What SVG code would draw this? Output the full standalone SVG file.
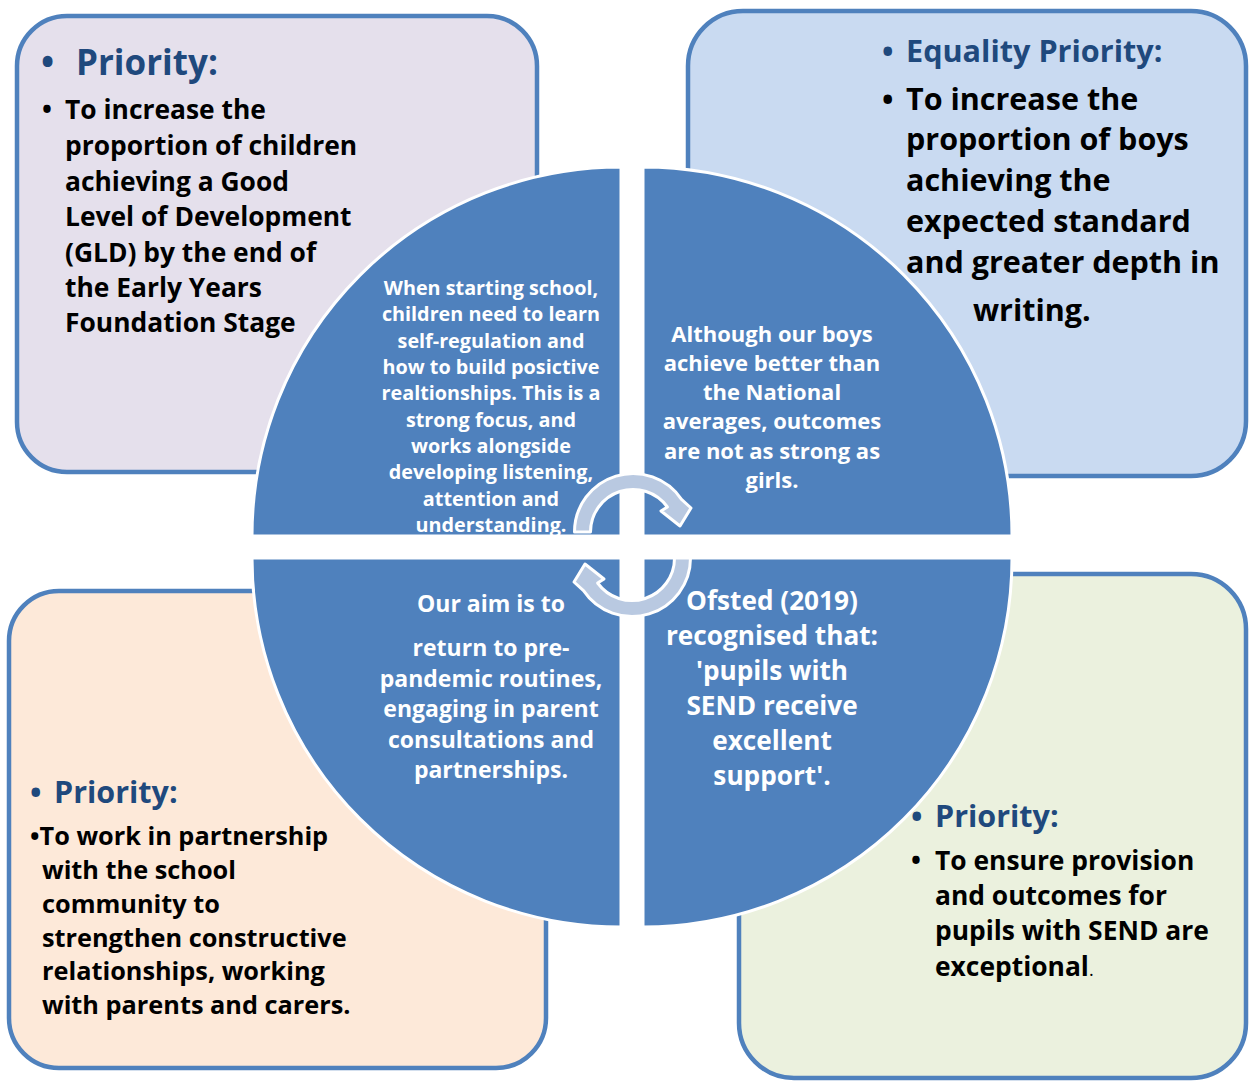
<svg xmlns="http://www.w3.org/2000/svg" width="1250" height="1081" viewBox="0 0 1250 1081">
<style>
.box{stroke:#4F81BD;stroke-width:4.5}
.quad{fill:#4F81BD;stroke:#FFFFFF;stroke-width:3}
.arrow{fill:#B9C9E1;stroke:#FFFFFF;stroke-width:3;stroke-linejoin:round}
text{font-family:"Open Sans","Liberation Sans",sans-serif;font-weight:bold}
.title{fill:#1F497D}
.body{fill:#000000}
.qt{fill:#FFFFFF;text-anchor:middle}
</style>
<rect width="1250" height="1081" fill="#FFFFFF"/>
<g id="box-tl"><rect class="box" x="17" y="16" width="520" height="456" rx="50" fill="#E5E0EC"/></g>
<g id="box-tr"><rect class="box" x="688" y="11" width="558" height="465" rx="55" fill="#C9DAF1"/></g>
<g id="box-bl"><rect class="box" x="9" y="591" width="537" height="477" rx="50" fill="#FDE9D9"/></g>
<g id="box-br"><rect class="box" x="739" y="574" width="507" height="504" rx="55" fill="#EBF1DE"/></g>
<g id="quad-tl"><path class="quad" d="M621,536 L252,536 A369,369 0 0 1 621,167 Z"/></g>
<g id="quad-tr"><path class="quad" d="M643,536 L643,167 A369,369 0 0 1 1012,536 Z"/></g>
<g id="quad-br"><path class="quad" d="M643,558 L1012,558 A369,369 0 0 1 643,927 Z"/></g>
<g id="quad-bl"><path class="quad" d="M621,558 L621,927 A369,369 0 0 1 252,558 Z"/></g>
<g id="text-tl">
<text class="title" x="41" y="75" font-size="35">•<tspan x="76">Priority:</tspan></text>
<g class="body" font-size="26.4">
<text x="42" y="119">•<tspan x="65">To increase the</tspan></text>
<text x="65" y="155">proportion of children</text>
<text x="65" y="191">achieving a Good</text>
<text x="65" y="226">Level of Development</text>
<text x="65" y="262">(GLD) by the end of</text>
<text x="65" y="297">the Early Years</text>
<text x="65" y="332">Foundation Stage</text>
</g>
</g>
<g id="text-tr">
<text class="title" x="882" y="62" font-size="30.6">•<tspan x="906">Equality Priority:</tspan></text>
<g class="body" font-size="30.5">
<text x="882" y="110">•<tspan x="906">To increase the</tspan></text>
<text x="906" y="150">proportion of boys</text>
<text x="906" y="191">achieving the</text>
<text x="906" y="232">expected standard</text>
<text x="906" y="273">and greater depth in</text>
<text x="973" y="321">writing.</text>
</g>
</g>
<g id="text-bl">
<text class="title" x="30" y="803" font-size="30.5">•<tspan x="54">Priority:</tspan></text>
<g class="body" font-size="25.3">
<text x="30" y="845">•To work in partnership</text>
<text x="42" y="879">with the school</text>
<text x="42" y="913">community to</text>
<text x="42" y="947">strengthen constructive</text>
<text x="42" y="980">relationships, working</text>
<text x="42" y="1014">with parents and carers.</text>
</g>
</g>
<g id="text-br">
<text class="title" x="911" y="827" font-size="30.5">•<tspan x="935">Priority:</tspan></text>
<g class="body" font-size="26.4">
<text x="911" y="870">•<tspan x="935">To ensure provision</tspan></text>
<text x="935" y="905">and outcomes for</text>
<text x="935" y="940">pupils with SEND are</text>
<text x="935" y="976">exceptional<tspan font-weight="normal" font-size="18">.</tspan></text>
</g>
</g>
<g id="text-q-tl" class="qt" font-size="19.8">
<text x="491" y="295">When starting school,</text>
<text x="491" y="321">children need to learn</text>
<text x="491" y="348">self-regulation and</text>
<text x="491" y="374">how to build posictive</text>
<text x="491" y="400">realtionships. This is a</text>
<text x="491" y="427">strong focus, and</text>
<text x="491" y="453">works alongside</text>
<text x="491" y="479">developing listening,</text>
<text x="491" y="506">attention and</text>
<text x="491" y="532">understanding.</text>
</g>
<g id="text-q-tr" class="qt" font-size="22">
<text x="772" y="342">Although our boys</text>
<text x="772" y="371">achieve better than</text>
<text x="772" y="400">the National</text>
<text x="772" y="429">averages, outcomes</text>
<text x="772" y="459">are not as strong as</text>
<text x="772" y="488">girls.</text>
</g>
<g id="text-q-bl" class="qt" font-size="23">
<text x="491" y="612">Our aim is to</text>
<text x="491" y="656">return to pre-</text>
<text x="491" y="687">pandemic routines,</text>
<text x="491" y="717">engaging in parent</text>
<text x="491" y="748">consultations and</text>
<text x="491" y="778">partnerships.</text>
</g>
<g id="text-q-br" class="qt" font-size="26.2">
<text x="772" y="610">Ofsted (2019)</text>
<text x="772" y="645">recognised that:</text>
<text x="772" y="680">'pupils with</text>
<text x="772" y="715">SEND receive</text>
<text x="772" y="750">excellent</text>
<text x="772" y="785">support'.</text>
</g>
<g id="connectors">
<path id="arrow-top" class="arrow" d="M574.5,532 A58.5,58.5 0 0 1 681.5,499.3 L691,508 L680,526 L661,511 L667.4,507 A42.5,42.5 0 0 0 590.5,532 Z"/>
<path id="arrow-bottom" class="arrow" transform="rotate(180 632.5 545)" d="M574.5,532 A58.5,58.5 0 0 1 681.5,499.3 L691,508 L680,526 L661,511 L667.4,507 A42.5,42.5 0 0 0 590.5,532 Z"/>
</g>
</svg>
